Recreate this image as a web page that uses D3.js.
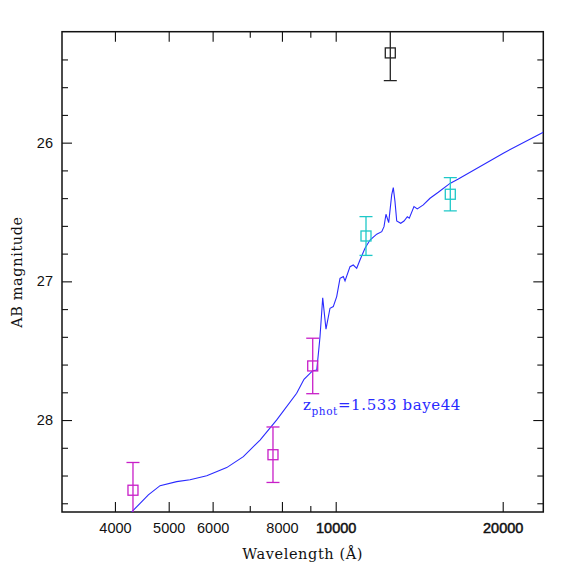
<!DOCTYPE html>
<html>
<head>
<meta charset="utf-8">
<script src="https://cdn.jsdelivr.net/npm/d3@7"></script>
<style>
  body { margin: 0; background: #fff; }
  text { fill: #111; }
</style>
</head>
<body>
<div id="chart"></div>
<script>
// best-fit template (wavelength in Angstrom, AB mag)
const sedWave = [4200, 4275, 4440, 4595, 4824, 5169, 5463, 5855, 6361, 6816, 7305, 7829, 8504, 8767,
  9090, 9243, 9320, 9369, 9475, 9605, 9766, 9900, 10041, 10180, 10320, 10394, 10612, 10758, 10911,
  11060, 11293, 11530, 11855, 12105, 12220, 12320, 12460, 12616, 12700, 12790, 12882, 13097, 13278,
  13461, 13573, 13838, 14030, 14385, 14791, 15309, 16069, 16634, 20050, 23670];
const sedMag = [28.72, 28.668, 28.600, 28.540, 28.473, 28.444, 28.430, 28.401, 28.343, 28.264, 28.144,
  27.999, 27.807, 27.706, 27.644, 27.639, 27.495, 27.399, 27.118, 27.345, 27.194, 27.182, 27.110,
  26.978, 26.966, 26.997, 26.894, 26.882, 26.906, 26.846, 26.761, 26.702, 26.660, 26.642, 26.606,
  26.516, 26.577, 26.377, 26.324, 26.425, 26.565, 26.581, 26.565, 26.534, 26.545, 26.461, 26.478,
  26.449, 26.401, 26.358, 26.294, 26.262, 26.076, 25.925];

// photometry
const photWave = [4311, 7708, 9090, 11340, 16090, 12543];
const photMag  = [28.506, 28.25, 27.61, 26.673, 26.372, 25.353];
const photErr  = [0.2, 0.2, 0.2, 0.14, 0.12, 0.2];
const photSet  = ["optical", "optical", "optical", "nir", "nir", "other"];

const xMajorTicks = [4000, 5000, 6000, 8000, 10000, 20000];
const xMinorTicks = [7000, 9000];
const yMajorTicks = [26, 27, 28];
const yMinorTicks = [25.4, 25.6, 25.8, 26.2, 26.4, 26.6, 26.8, 27.2, 27.4, 27.6, 27.8, 28.2, 28.4, 28.6];

const fitLabel = { z: "1.533", template: "baye44" };

const W = 574, H = 574;
const box = { left: 62, right: 543.3, top: 31.7, bottom: 512 };

const svg = d3.select("#chart").append("svg")
    .attr("width", W).attr("height", H)
    .style("font-family", "'DejaVu Sans', sans-serif");

const x = d3.scaleLog().domain([3211, 23670]).range([box.left, box.right]);
const y = d3.scaleLinear().domain([25.2, 28.663]).range([box.top, box.bottom]);

const colour = d3.scaleOrdinal()
    .domain(["optical", "nir", "other"])
    .range(["#c81ec8", "#1ec8c8", "#222222"]);

svg.append("defs").append("clipPath").attr("id", "plotclip")
    .append("rect").attr("x", box.left).attr("y", box.top)
    .attr("width", box.right - box.left).attr("height", box.bottom - box.top);

// axes: ticks point inward
const tickStyle = g => {
  g.select(".domain").remove();
  g.selectAll(".tick line").attr("stroke", "#111").attr("stroke-width", 1.1);
};

svg.append("g").attr("transform", `translate(0,${box.bottom})`)
    .call(d3.axisBottom(x).tickValues(xMajorTicks).tickSize(-10).tickPadding(11).tickFormat(d3.format("d")))
    .call(tickStyle)
    .call(g => g.selectAll("text").style("font-size", "14.5px").attr("fill", "#111")
        .filter(d => d >= 10000).attr("stroke", "#111").attr("stroke-width", 0.5));
svg.append("g").attr("transform", `translate(0,${box.bottom})`)
    .call(d3.axisBottom(x).tickValues(xMinorTicks).tickSize(-6).tickFormat(""))
    .call(tickStyle);
svg.append("g").attr("transform", `translate(0,${box.top})`)
    .call(d3.axisTop(x).tickValues(xMajorTicks).tickSize(-10).tickFormat(""))
    .call(tickStyle);
svg.append("g").attr("transform", `translate(0,${box.top})`)
    .call(d3.axisTop(x).tickValues(xMinorTicks).tickSize(-6).tickFormat(""))
    .call(tickStyle);

svg.append("g").attr("transform", `translate(${box.left},0)`)
    .call(d3.axisLeft(y).tickValues(yMajorTicks).tickSize(-10).tickPadding(9).tickFormat(d3.format("d")))
    .call(tickStyle)
    .call(g => g.selectAll("text").style("font-size", "14.5px").attr("fill", "#111"));
svg.append("g").attr("transform", `translate(${box.left},0)`)
    .call(d3.axisLeft(y).tickValues(yMinorTicks).tickSize(-6).tickFormat(""))
    .call(tickStyle);
svg.append("g").attr("transform", `translate(${box.right},0)`)
    .call(d3.axisRight(y).tickValues(yMajorTicks).tickSize(-10).tickFormat(""))
    .call(tickStyle);
svg.append("g").attr("transform", `translate(${box.right},0)`)
    .call(d3.axisRight(y).tickValues(yMinorTicks).tickSize(-6).tickFormat(""))
    .call(tickStyle);

svg.append("rect")
    .attr("x", box.left).attr("y", box.top)
    .attr("width", box.right - box.left).attr("height", box.bottom - box.top)
    .attr("fill", "none").attr("stroke", "#111").attr("stroke-width", 1.5);

const plot = svg.append("g").attr("clip-path", "url(#plotclip)");

// template curve
const line = d3.line().x(d => x(d[0])).y(d => y(d[1]));
plot.append("path")
    .datum(d3.zip(sedWave, sedMag))
    .attr("d", line)
    .attr("fill", "none")
    .attr("stroke", "#2a2aff")
    .attr("stroke-width", 1.1);

// photometric points with error bars
const phot = photWave.map((w, i) => ({ w, m: photMag[i], e: photErr[i], set: photSet[i] }));
const pts = plot.append("g").selectAll("g").data(phot).join("g")
    .attr("stroke", d => colour(d.set))
    .attr("stroke-width", 1.3)
    .attr("fill", "none");

pts.append("line")
    .attr("x1", d => x(d.w)).attr("x2", d => x(d.w))
    .attr("y1", d => y(d.m - d.e)).attr("y2", d => y(d.m + d.e));
pts.append("line")
    .attr("x1", d => x(d.w) - 6.5).attr("x2", d => x(d.w) + 6.5)
    .attr("y1", d => y(d.m - d.e)).attr("y2", d => y(d.m - d.e));
pts.append("line")
    .attr("x1", d => x(d.w) - 6.5).attr("x2", d => x(d.w) + 6.5)
    .attr("y1", d => y(d.m + d.e)).attr("y2", d => y(d.m + d.e));
pts.append("rect")
    .attr("x", d => x(d.w) - 5).attr("y", d => y(d.m) - 5)
    .attr("width", 10).attr("height", 10);

// fit annotation
const lab = svg.append("text")
    .attr("x", 303).attr("y", 410)
    .style("font-family", "'DejaVu Serif', serif")
    .style("font-size", "15px")
    .style("letter-spacing", "0.6px")
    .style("fill", "#2a2aff");
lab.append("tspan").text("z");
lab.append("tspan").attr("dy", 5).style("font-size", "10.5px").text("phot");
lab.append("tspan").attr("dy", -5).text(`=${fitLabel.z} ${fitLabel.template}`);

// axis titles
svg.append("text")
    .attr("x", (box.left + box.right) / 2).attr("y", 559)
    .attr("text-anchor", "middle")
    .style("font-family", "'DejaVu Serif', serif")
    .style("font-size", "14.5px")
    .style("letter-spacing", "0.6px")
    .text("Wavelength (Å)");

svg.append("text")
    .attr("transform", `translate(22,272) rotate(-90)`)
    .attr("text-anchor", "middle")
    .style("font-family", "'DejaVu Serif', serif")
    .style("font-size", "14.5px")
    .style("letter-spacing", "0.6px")
    .text("AB magnitude");
</script>
</body>
</html>
